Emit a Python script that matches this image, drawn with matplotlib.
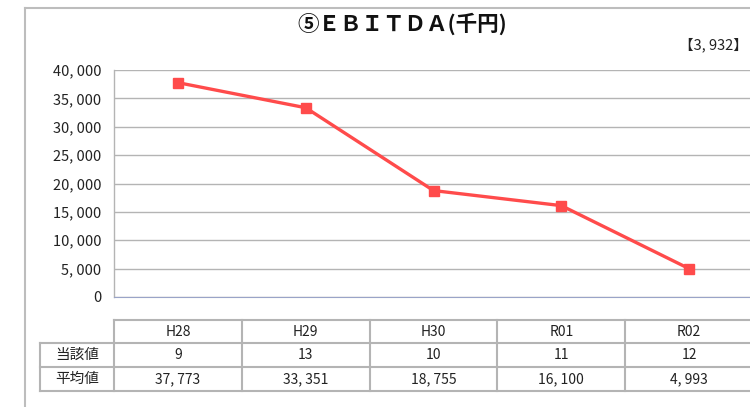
import matplotlib
matplotlib.use("Agg")
import matplotlib.pyplot as plt
import matplotlib.transforms as mtransforms
from matplotlib.lines import Line2D

plt.rcParams['font.family'] = ['Noto Sans CJK JP', 'DejaVu Sans']

categories = ["H28", "H29", "H30", "R01", "R02"]
current_values = [9, 13, 10, 11, 12]
average_values = [37773, 33351, 18755, 16100, 4993]
yticks = [0, 5000, 10000, 15000, 20000, 25000, 30000, 35000, 40000]
title = "⑤ＥＢＩＴＤＡ(千円)"
note = "【3, 932】"
row_labels = ["当該値", "平均値"]

W, H = 750, 407
fig = plt.figure(figsize=(W / 100, H / 100), dpi=100)

def fx(px):
    return px / W

def fy(py):
    return 1 - py / H

# outer frame lines
frame_col = "#BDBDBD"
fig.add_artist(Line2D([fx(25), fx(25)], [fy(8), fy(H + 5)], color=frame_col, lw=1.5, transform=fig.transFigure))
fig.add_artist(Line2D([fx(25), fx(W + 5)], [fy(8), fy(8)], color=frame_col, lw=1.5, transform=fig.transFigure))

ax = fig.add_axes([fx(114), fy(297), (753 - 114) / W, (297 - 70) / H])
x = list(range(len(categories)))
ax.plot(x, average_values, color="#FF4B4B", lw=2.4, marker="s", markersize=7.5, zorder=3, clip_on=False)
ax.set_xlim(-0.5, len(categories) - 0.5)
ax.set_ylim(0, 40000)
ax.set_yticks(yticks)
ax.set_yticklabels([f"{v:,}".replace(",", ", ") for v in yticks], fontsize=10.5, color="#222222")
ax.set_xticks([])
ax.tick_params(axis="y", length=0, pad=9)
ax.grid(axis="y", color="#B4B4B4", lw=1.0)
ax.set_axisbelow(True)
for s in ["top", "right"]:
    ax.spines[s].set_visible(False)
ax.spines["left"].set_color("#B4B4B4")
ax.spines["bottom"].set_color("#9AA4C8")
ax.spines["left"].set_linewidth(1.0)

fig.text(fx(402), fy(24), title, ha="center", va="center", fontsize=15.5, fontweight="bold", color="#111111")
fig.text(fx(748), fy(45), note, ha="right", va="center", fontsize=10.5, color="#222222")

# data table below, columns aligned to the axes' data x-scale
trans = mtransforms.blended_transform_factory(ax.transData, fig.transFigure)
tcol = "#B4B4B4"
row_y = [320, 343, 367, 391]
n = len(categories)
left_lbl = -0.5 - (114 - 40) / ((753 - 114) / n)
# horizontal lines
ax.add_line(Line2D([-0.5, n - 0.5], [fy(row_y[0])] * 2, transform=trans, color=tcol, lw=1.5, clip_on=False))
for yy in row_y[1:]:
    ax.add_line(Line2D([left_lbl, n - 0.5], [fy(yy)] * 2, transform=trans, color=tcol, lw=1.5, clip_on=False))
# vertical lines
ax.add_line(Line2D([left_lbl, left_lbl], [fy(row_y[1]), fy(row_y[3])], transform=trans, color=tcol, lw=1.5, clip_on=False))
for i in range(n + 1):
    xx = i - 0.5
    ax.add_line(Line2D([xx, xx], [fy(row_y[0]), fy(row_y[3])], transform=trans, color=tcol, lw=1.5, clip_on=False))

def cy(r):
    return fy((row_y[r] + row_y[r + 1]) / 2)

for i, c in enumerate(categories):
    ax.text(i, cy(0), c, transform=trans, ha="center", va="center", fontsize=10, color="#222222")
    ax.text(i, cy(1), str(current_values[i]), transform=trans, ha="center", va="center", fontsize=10, color="#222222")
    ax.text(i, cy(2), f"{average_values[i]:,}".replace(",", ", "), transform=trans, ha="center", va="center", fontsize=10, color="#222222")
lx = (left_lbl + (-0.5)) / 2
for r, lbl in enumerate(row_labels):
    ax.text(lx, cy(r + 1), lbl, transform=trans, ha="center", va="center", fontsize=10.5, color="#222222")

fig.savefig("out.png", dpi=100, facecolor="white")
